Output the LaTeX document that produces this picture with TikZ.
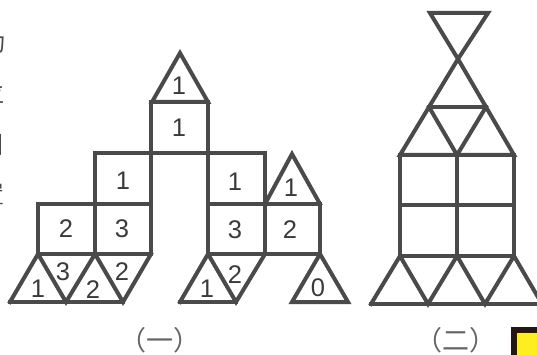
\documentclass[tikz,border=0pt]{standalone}
\usepackage{fontspec}
\setmainfont{Liberation Sans}
\newfontfamily\cjk{Noto Sans CJK SC}
\definecolor{ln}{HTML}{4A4A4A}
\definecolor{numc}{HTML}{3A3A3A}
\definecolor{ylw}{HTML}{FCEE21}
\definecolor{blk}{HTML}{231815}
\begin{document}
\begin{tikzpicture}[x=1pt,y=-1pt,
  edge/.style={draw=ln, line width=4pt, line join=miter, line cap=rect},
  num/.style={font=\fontsize{25.5}{26}\selectfont, text=numc, inner sep=0pt},
  side/.style={font=\cjk\fontsize{24}{24}\selectfont, text=ln, inner sep=0pt, anchor=east},
  capt/.style={font=\cjk\fontsize{27}{27}\selectfont, text=ln!85, inner sep=0pt}]
\useasboundingbox (0,0) rectangle (537,355);

% ---- side text (clipped at left edge, as in the reference)
\node[side] (s1) at (6,43) {功};
\node[side] (s2) at (5,93) {位};
\node[side] (s3) at (4,145) {图};
\node[side] (s4) at (5,194) {置};

% ---- figure (一)
% middle tower
\draw[edge] (152,102) -- (180,53) -- (208,102) -- cycle;
\draw[edge] (151,102) rectangle (208,153);
\draw[edge] (151,153) -- (151,254);
\draw[edge] (208,153) -- (208,254);
\draw[edge] (95,153) -- (265,153);
% left part
\draw[edge] (95,153) rectangle (151,204);
\draw[edge] (38,204) rectangle (151,254);
\draw[edge] (95,204) -- (95,254);
\draw[edge] (10,302) -- (38,254) -- (66,302) -- (95,254) -- (123,302) -- (151,254);
\draw[edge] (10,302) -- (123,302);
% right part
\draw[edge] (208,153) rectangle (265,204);
\draw[edge] (208,204) rectangle (320,254);
\draw[edge] (265,204) -- (265,254);
\draw[edge] (265,204) -- (292,154) -- (320,204);
\draw[edge] (180,302) -- (208,254) -- (236,302) -- (265,254);
\draw[edge] (180,302) -- (236,302);
\draw[edge] (292,302) -- (320,254) -- (348,302) -- cycle;

% labels
\node[num] (t1) at (179,86) {1};
\node[num] (q1) at (179,128) {1};
\node[num] (l1) at (123,181) {1};
\node[num] (l2) at (66,229) {2};
\node[num] (l3) at (122,229) {3};
\node[num] (b1) at (38,289) {1};
\node[num] (b2) at (63,272) {3};
\node[num] (b3) at (93,290) {2};
\node[num] (b4) at (122,272) {2};
\node[num] (r1) at (235,182) {1};
\node[num] (r2) at (291,188) {1};
\node[num] (r3) at (235,230) {3};
\node[num] (r4) at (290,230) {2};
\node[num] (r5) at (207,289) {1};
\node[num] (r6) at (235,275) {2};
\node[num] (r7) at (318,288) {0};

% ---- figure (二)
\draw[edge] (430,13) -- (488,13) -- (458,59) -- cycle;
\draw[edge] (458,59) -- (400,155) -- (514,155) -- cycle;
\draw[edge] (429,107) -- (486,107);
\draw[edge] (429,107) -- (457,155) -- (486,107);
\draw[edge] (400,155) rectangle (514,256);
\draw[edge] (457,155) -- (457,256);
\draw[edge] (400,205) -- (514,205);
\draw[edge] (371,304) -- (542,304);
\draw[edge] (371,304) -- (400,256) -- (428,304) -- (457,256) -- (485,304) -- (514,256) -- (542,304);

% ---- captions
\node[capt] (c1) at (160,340) {（一）};
\node[capt] (c2) at (456,340) {（二）};

% ---- yellow box (partly off the page)
\draw[fill=ylw, draw=blk, line width=6pt] (514,330) rectangle (560,380);
\end{tikzpicture}
\end{document}
